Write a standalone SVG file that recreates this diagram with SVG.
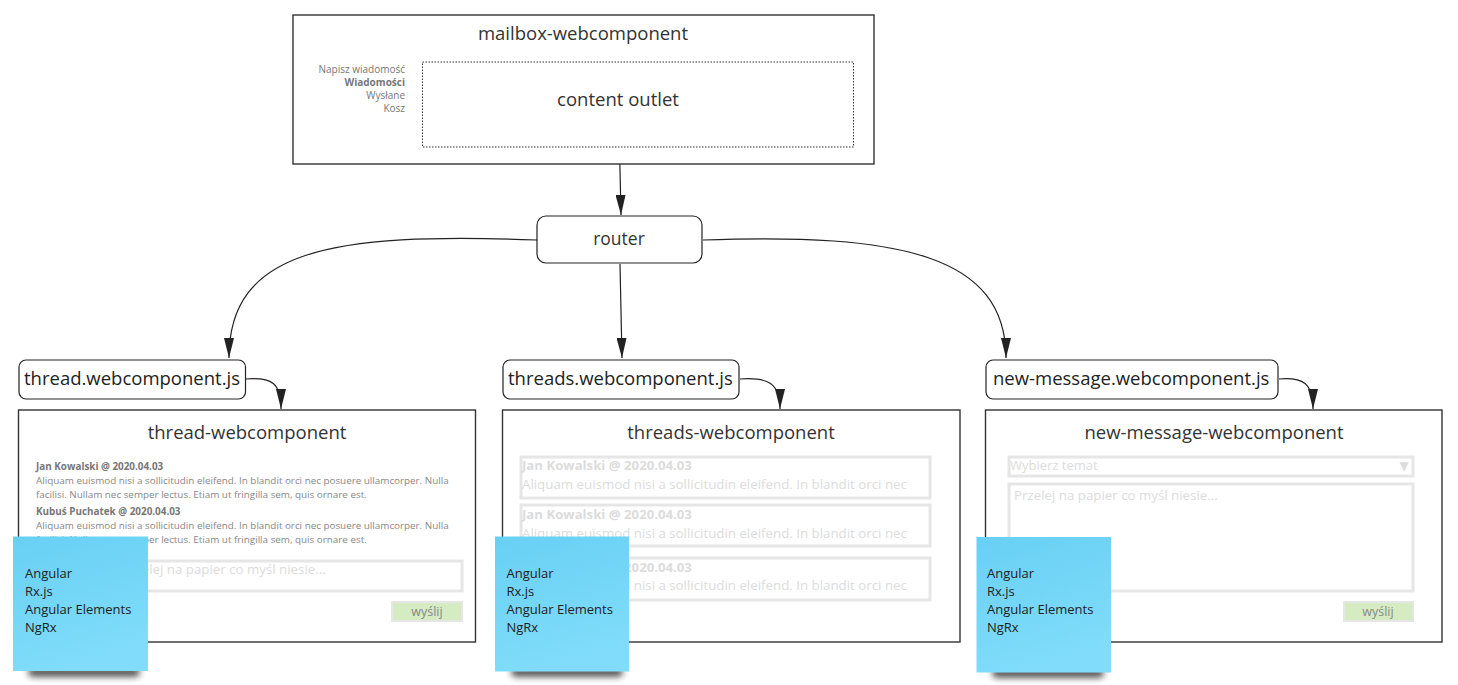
<svg xmlns="http://www.w3.org/2000/svg" width="1458" height="685" viewBox="0 0 1458 685">
<style>
text{font-family:"Open Sans","DejaVu Sans",sans-serif}
.box{fill:#fff;stroke:#333;stroke-width:1.4}
.lbl{fill:#fff;stroke:#222;stroke-width:1.2}
.title{font-size:18.5px;fill:#333;text-anchor:middle}
.js{font-size:18.5px;fill:#222}
.conn{fill:none;stroke:#222;stroke-width:1.2}
.menu{font-size:10px;fill:#777;text-anchor:end}
.faint{fill:none;stroke:#e6e6e6;stroke-width:3}
.ghost{fill:#dcdcdc}
.tb{font-size:9.9px;font-weight:bold;fill:#777}
.tt{font-size:9.85px;fill:#888}
.btn{fill:#d5ecc3;stroke:#e6e6e6;stroke-width:2}
.btnt{font-size:12.5px;fill:#888;text-anchor:middle}
.note{fill:url(#noteGrad)}
.notet{font-size:13px;fill:#222}
</style>
<defs>
<marker id="arr" markerUnits="userSpaceOnUse" markerWidth="20" markerHeight="10" refX="20" refY="5" orient="auto">
<path d="M0,0 L20,5 L0,10 z" fill="#222"/>
</marker>
<linearGradient id="noteGrad" x1="0" y1="0" x2="0.3" y2="1">
<stop offset="0" stop-color="#68d0f4"/>
<stop offset="1" stop-color="#80dcfa"/>
</linearGradient>
<filter id="blur" x="-20%" y="-100%" width="140%" height="300%">
<feGaussianBlur stdDeviation="3"/>
</filter>
</defs>

<g id="connectors">
<path class="conn" d="M619,125 L621,215" marker-end="url(#arr)"/>
<path class="conn" d="M537,240 C 330,232 229,250 229,358" marker-end="url(#arr)"/>
<path class="conn" d="M620,264 L622,358" marker-end="url(#arr)"/>
<path class="conn" d="M703,240 C 900,233 1006,255 1006,358" marker-end="url(#arr)"/>
<path class="conn" d="M246,379 C 272,377 281,383 281,409" marker-end="url(#arr)"/>
<path class="conn" d="M740,379 C 768,377 780,383 780,409" marker-end="url(#arr)"/>
<path class="conn" d="M1279,379 C 1303,377 1313,383 1313,409" marker-end="url(#arr)"/>
</g>

<g id="mailbox">
<rect class="box" x="293" y="15" width="581" height="149"/>
<text class="title" x="583" y="40">mailbox-webcomponent</text>
<text class="menu" x="405" y="73">Napisz wiadomość</text>
<text class="menu" x="405" y="86" font-weight="bold">Wiadomości</text>
<text class="menu" x="405" y="99">Wysłane</text>
<text class="menu" x="405" y="112">Kosz</text>
<rect x="422.5" y="62" width="431" height="85" fill="none" stroke="#333" stroke-width="1" stroke-dasharray="1.5,1.5"/>
<text class="title" x="618" y="106" font-size="18">content outlet</text>
</g>

<g id="router">
<rect class="lbl" x="537" y="216" width="165" height="47" rx="9"/>
<text x="619" y="245" font-size="17.5" fill="#333" text-anchor="middle">router</text>
</g>

<g id="thread-js">
<rect class="lbl" x="19" y="360" width="226.5" height="39" rx="7"/>
<text class="js" x="24" y="385">thread.webcomponent.js</text>
</g>
<g id="threads-js">
<rect class="lbl" x="503" y="360" width="236" height="39" rx="7"/>
<text class="js" x="508" y="385">threads.webcomponent.js</text>
</g>
<g id="new-message-js">
<rect class="lbl" x="986" y="360" width="292" height="39" rx="7"/>
<text class="js" x="993" y="385">new-message.webcomponent.js</text>
</g>

<g id="thread-webcomponent">
<rect class="box" x="18.5" y="410" width="457" height="232"/>
<text class="title" x="247" y="439">thread-webcomponent</text>
<text class="tb" x="36" y="470">Jan Kowalski @ 2020.04.03</text>
<text class="tt" x="36" y="484">Aliquam euismod nisi a sollicitudin eleifend. In blandit orci nec posuere ullamcorper. Nulla</text>
<text class="tt" x="36" y="498">facilisi. Nullam nec semper lectus. Etiam ut fringilla sem, quis ornare est.</text>
<text class="tb" x="36" y="515">Kubuś Puchatek @ 2020.04.03</text>
<text class="tt" x="36" y="529">Aliquam euismod nisi a sollicitudin eleifend. In blandit orci nec posuere ullamcorper. Nulla</text>
<text class="tt" x="36" y="543">facilisi. Nullam nec semper lectus. Etiam ut fringilla sem, quis ornare est.</text>
<rect class="faint" x="36" y="561" width="426" height="30"/>
<text class="ghost" x="122" y="574" font-size="13.3">Przelej na papier co myśl niesie...</text>
<rect class="btn" x="392" y="602" width="70" height="19"/>
<text class="btnt" x="427" y="616">wyślij</text>
</g>

<g id="threads-webcomponent">
<rect class="box" x="502.5" y="410" width="457.5" height="232"/>
<text class="title" x="731" y="439">threads-webcomponent</text>
<rect class="faint" x="521" y="457" width="409" height="41"/>
<text class="ghost" x="522" y="470" font-size="13.2" font-weight="bold">Jan Kowalski @ 2020.04.03</text>
<text class="ghost" x="522" y="489" font-size="13.3">Aliquam euismod nisi a sollicitudin eleifend. In blandit orci nec</text>
<rect class="faint" x="521" y="505" width="409" height="41"/>
<text class="ghost" x="522" y="519" font-size="13.2" font-weight="bold">Jan Kowalski @ 2020.04.03</text>
<text class="ghost" x="522" y="538" font-size="13.3">Aliquam euismod nisi a sollicitudin eleifend. In blandit orci nec</text>
<rect class="faint" x="521" y="558" width="409" height="42"/>
<text class="ghost" x="522" y="572" font-size="13.2" font-weight="bold">Jan Kowalski @ 2020.04.03</text>
<text class="ghost" x="522" y="590" font-size="13.3">Aliquam euismod nisi a sollicitudin eleifend. In blandit orci nec</text>
</g>

<g id="new-message-webcomponent">
<rect class="box" x="985.5" y="410" width="456.5" height="232"/>
<text class="title" x="1214" y="439">new-message-webcomponent</text>
<rect class="faint" x="1009" y="457" width="404" height="19"/>
<text class="ghost" x="1010" y="469.5" font-size="13">Wybierz temat</text>
<text class="ghost" x="1404" y="470" font-size="12" text-anchor="middle">▼</text>
<rect class="faint" x="1009" y="484" width="404" height="107"/>
<text class="ghost" x="1014" y="500" font-size="13.3">Przelej na papier co myśl niesie...</text>
<rect class="btn" x="1344" y="602" width="69" height="19"/>
<text class="btnt" x="1378" y="616">wyślij</text>
</g>

<g id="note-thread">
<rect x="28" y="667" width="112" height="10" rx="5" fill="#222" opacity="0.75" filter="url(#blur)"/>
<rect class="note" x="13" y="536.5" width="135" height="134.5"/>
<text class="notet" x="25" y="578">Angular</text>
<text class="notet" x="25" y="596">Rx.js</text>
<text class="notet" x="25" y="614">Angular Elements</text>
<text class="notet" x="25" y="632">NgRx</text>
</g>
<g id="note-threads">
<rect x="511" y="667" width="112" height="10" rx="5" fill="#222" opacity="0.75" filter="url(#blur)"/>
<rect class="note" x="495" y="536.5" width="134" height="135"/>
<text class="notet" x="506.5" y="578">Angular</text>
<text class="notet" x="506.5" y="596">Rx.js</text>
<text class="notet" x="506.5" y="614">Angular Elements</text>
<text class="notet" x="506.5" y="632">NgRx</text>
</g>
<g id="note-new-message">
<rect x="992" y="668" width="112" height="10" rx="5" fill="#222" opacity="0.75" filter="url(#blur)"/>
<rect class="note" x="976.5" y="537" width="134.5" height="135.5"/>
<text class="notet" x="987" y="578">Angular</text>
<text class="notet" x="987" y="596">Rx.js</text>
<text class="notet" x="987" y="614">Angular Elements</text>
<text class="notet" x="987" y="632">NgRx</text>
</g>
</svg>
